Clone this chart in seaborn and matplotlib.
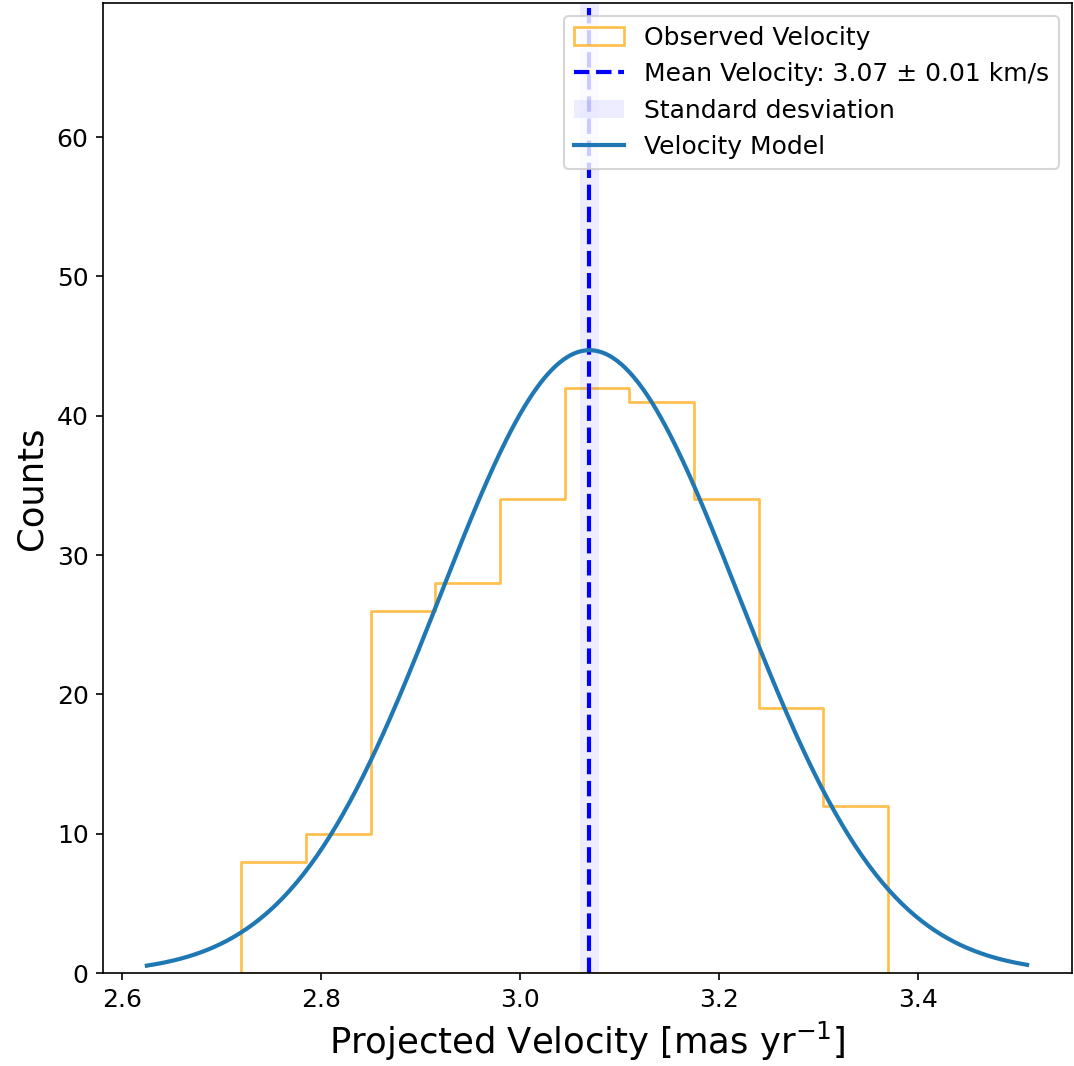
import numpy as np
import pandas as pd
import matplotlib
matplotlib.use("Agg")
import matplotlib.pyplot as plt
import seaborn as sns

# Histogram data
bin_edges = [2.72, 2.785, 2.85, 2.915, 2.98, 3.045, 3.11, 3.175, 3.24, 3.305, 3.37]
counts = [8, 10, 26, 28, 34, 42, 41, 34, 19, 12]

# Mean and spread
mean_velocity = 3.07
mean_error = 0.01

# Gaussian velocity model parameters
model_amp = 44.7
model_mu = 3.07
model_sigma = 0.15
model_range = [2.625, 3.51]

centers = [(a + b) / 2 for a, b in zip(bin_edges[:-1], bin_edges[1:])]
df = pd.DataFrame({"v": centers, "n": counts})

xm = np.linspace(model_range[0], model_range[1], 400)
ym = model_amp * np.exp(-0.5 * ((xm - model_mu) / model_sigma) ** 2)
model = pd.DataFrame({"v": xm, "y": ym})

fig = plt.figure(figsize=(7.16, 7.107), dpi=150)
ax = fig.add_axes([0.096, 0.087, 0.902, 0.910])

sns.histplot(data=df, x="v", weights="n", bins=bin_edges, element="step",
             fill=True, color="orange", facecolor="none",
             edgecolor=(1.0, 0.647, 0.0, 0.7),
             linewidth=1.3, ax=ax, label="Observed Velocity")
ax.axvline(mean_velocity, color="blue", linestyle="--", linewidth=2,
           label=f"Mean Velocity: {mean_velocity:.2f} ± {mean_error:.2f} km/s")
ax.axvspan(mean_velocity - mean_error, mean_velocity + mean_error,
           color="blue", alpha=0.07, linewidth=0, label="Standard desviation")
sns.lineplot(data=model, x="v", y="y", color="#1f77b4", linewidth=2,
             ax=ax, label="Velocity Model")

ax.set_xlim(2.581, 3.555)
ax.set_ylim(0, 69.6)
ax.set_xticks([2.6, 2.8, 3.0, 3.2, 3.4])
ax.set_yticks([0, 10, 20, 30, 40, 50, 60])
ax.tick_params(labelsize=12)
ax.set_xlabel(r"Projected Velocity [mas yr$^{-1}$]", fontsize=17)
ax.set_ylabel("Counts", fontsize=17)

ax.legend(loc="upper right", fontsize=12)

fig.savefig("out.png", dpi=150)
